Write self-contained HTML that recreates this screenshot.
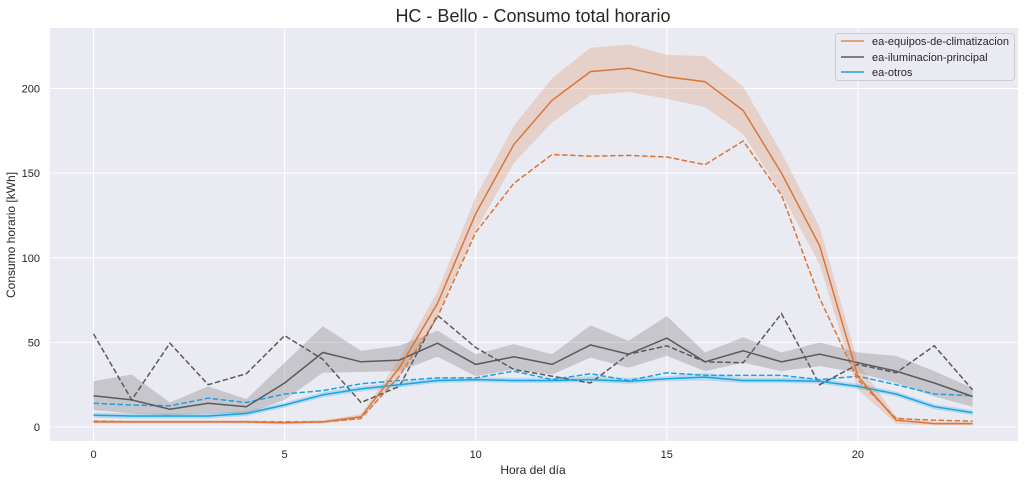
<!DOCTYPE html>
<html><head><meta charset="utf-8"><style>
body{margin:0;background:#fff;}
svg{display:block;font-family:"Liberation Sans",Arial,sans-serif;}
</style></head><body>
<svg id="c" width="1025" height="483" xmlns="http://www.w3.org/2000/svg">
<rect x="50" y="28" width="968" height="413" fill="#eaeaf2"/>
<g id="grid"></g>
<g id="series"></g>
<text x="533" y="22" text-anchor="middle" font-size="18" fill="#262626">HC - Bello - Consumo total horario</text>
<text x="533" y="474" text-anchor="middle" font-size="12" fill="#262626">Hora del día</text>
<text x="15" y="235" text-anchor="middle" font-size="12" fill="#262626" transform="rotate(-90 15 235)">Consumo horario [kWh]</text>
<g>
<rect x="835.5" y="33.5" width="179" height="47" rx="3" fill="#eaeaf2" stroke="#cccccc"/>
<line x1="841" y1="41" x2="864" y2="41" stroke="#dd8452" stroke-width="1.5"/>
<text x="872" y="45" font-size="11" fill="#262626">ea-equipos-de-climatizacion</text>
<line x1="841" y1="57" x2="864" y2="57" stroke="#5a5a5a" stroke-width="1.5"/>
<text x="872" y="61" font-size="11" fill="#262626">ea-iluminacion-principal</text>
<line x1="841" y1="72" x2="864" y2="72" stroke="#1aa3e2" stroke-width="1.5"/>
<text x="872" y="76" font-size="11" fill="#262626">ea-otros</text>
</g>
</svg>
<script>
const hours=[0,1,2,3,4,5,6,7,8,9,10,11,12,13,14,15,16,17,18,19,20,21,22,23];
const xTicks=[0,5,10,15,20];
const yTicks=[0,50,100,150,200];
const climMean=[3,3,3,3,3,2.5,3,6,35,73,126,167,193,210,212,207,204,187,150,107,30,4,2,2];
const climLow=[2,2,2,2,2,1.5,2,4.5,30,66,116,156,180,196,198,194,189,173,138,96,22,2,1,1];
const climHigh=[4,4,4,4,4,3.5,4,7.5,40,80,136,178,206,224,226,220,219,201,162,118,38,6,3,3];
const climDash=[3.5,3,3,3,3,3,3,5,30,65,115,144,161,160,160.5,159.5,155,169,137,76,28,5,4,3.5];
const ilumMean=[18.5,16,10.5,14,12,26,44,38.5,39.5,49.5,37,41.5,37,48.5,43,52.5,38.5,45,38.5,43,38,33,26,18];
const ilumLow=[10,8,7,8,8,16,32,32.5,33,41.5,30,34,31,41,35,42,33,38,33,36,32,26,18,12];
const ilumHigh=[27,31,14.5,24,16.5,38,59.5,45,48,57,43,49,43,60,51,65.5,44,53,44,50,44,42,33,23];
const ilumDash=[55,16,49.5,25,31.5,54,40,14.5,24,66,47,34,30,26,43,48,38.5,38,67,25,37,32,48,22];
const otrosMean=[7,6.5,6.5,6.5,8,13,19,22.5,25,27.5,28,27.5,27.5,28,27,28.5,29.5,27.5,27.5,27,24,19.5,12,8.5];
const otrosLow=[5.5,5,5,5,6.5,11.5,17.5,21,23.5,26,26.5,26,26,26.5,25.5,27,27.5,26,26,25.5,22.5,18,10.5,7];
const otrosHigh=[8.5,8,8,8,9.5,14.5,20.5,24,26.5,29,29.5,29,29,30,29,30,32,29,29,28.5,25.5,21,13.5,10];
const otrosDash=[14,13,12.5,17,14.5,19.5,21.5,25.5,27.5,29,29,33,28,31.5,27.5,32,30.5,30.5,30.5,28,30,25,19.5,18.5];

const NS='http://www.w3.org/2000/svg';
const X=h=>93.5+h*38.22;
const Y=v=>427-v*1.6925;
const grid=document.getElementById('grid');
const ser=document.getElementById('series');
function mk(tag,attrs,parent){const e=document.createElementNS(NS,tag);for(const k in attrs)e.setAttribute(k,attrs[k]);parent.appendChild(e);return e;}
xTicks.forEach(t=>{
  const l=mk('line',{x1:X(t),x2:X(t),y1:28,y2:441,stroke:'#fff','stroke-width':1},grid);
  
  
  const tx=mk('text',{x:X(t),y:458,'text-anchor':'middle','font-size':11,fill:'#262626'},grid);
  tx.textContent=t;
  
  
});
yTicks.forEach(t=>{
  const l=mk('line',{x1:50,x2:1018,y1:Y(t),y2:Y(t),stroke:'#fff','stroke-width':1},grid);
  
  
  const tx=mk('text',{x:40,y:Y(t)+4,'text-anchor':'end','font-size':11,fill:'#262626'},grid);
  tx.textContent=t;
  
  
});
function pts(arr){return arr.map((v,i)=>X(hours[i]).toFixed(1)+','+Y(v).toFixed(1)).join(' ');}
function band(lo,hi,color,name){
  const p=pts(hi)+' '+lo.map((v,i)=>[X(hours[i]).toFixed(1),Y(v).toFixed(1)].join(',')).reverse().join(' ');
  const e=mk('polygon',{points:p,fill:color,'fill-opacity':0.25},ser);
  
  
}
function line(arr,color,dash,name){
  const e=mk('polyline',{points:pts(arr),fill:'none',stroke:color,'stroke-width':1.5},ser);
  if(dash)e.setAttribute('stroke-dasharray','5.5,2.5');
  
  
}
band(ilumLow,ilumHigh,'#5a5a5a','band-iluminacion');
band(otrosLow,otrosHigh,'#1aa3e2','band-otros');
band(climLow,climHigh,'#dd8452','band-climatizacion');
line(ilumDash,'#5a5a5a',true,'line-iluminacion-dashed');
line(otrosDash,'#1aa3e2',true,'line-otros-dashed');
line(climDash,'#d9773a',true,'line-climatizacion-dashed');
line(ilumMean,'#5a5a5a',false,'line-iluminacion');
line(otrosMean,'#1aa3e2',false,'line-otros');
line(climMean,'#d9773a',false,'line-climatizacion');
</script>
</body></html>
